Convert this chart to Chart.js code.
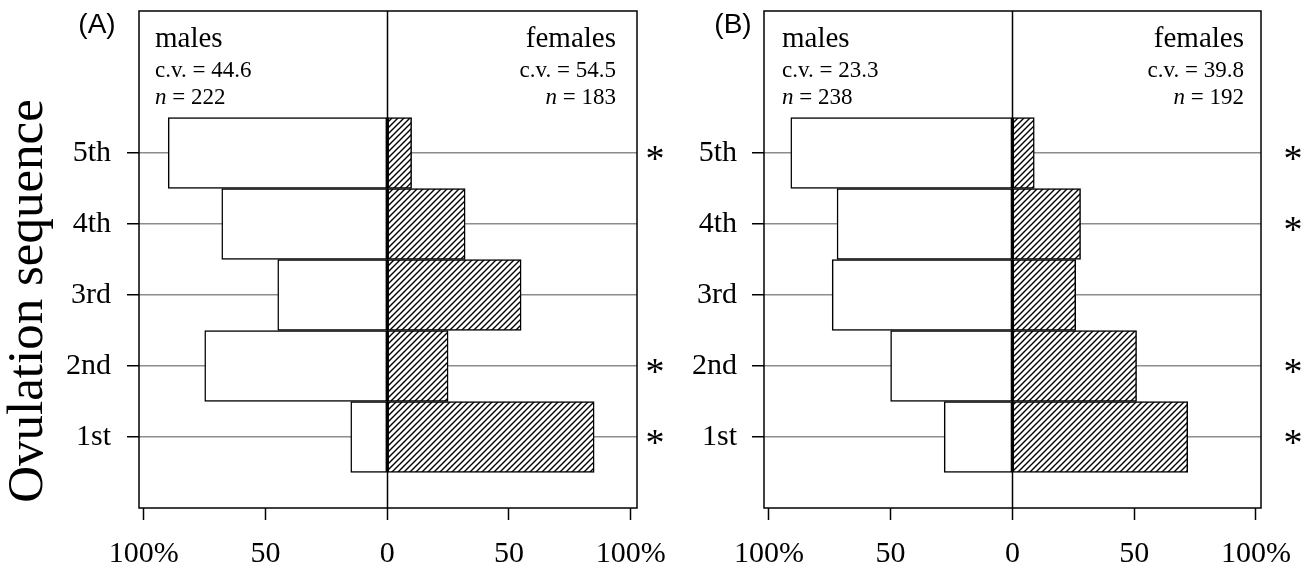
<!DOCTYPE html>
<html><head><meta charset="utf-8">
<script src="https://cdn.jsdelivr.net/npm/chart.js@4"></script>
<style>
html,body{margin:0;padding:0;background:#fff;}
#wrap{position:relative;width:1302px;height:569px;overflow:hidden;}
canvas{position:absolute;top:0;}
#cA{left:0;} #cB{left:680px;}
</style></head><body>
<div id="wrap"><canvas id="cA" width="680" height="569"></canvas><canvas id="cB" width="622" height="569"></canvas></div>
<script>
// ---- data ----
const categories = ['1st', '2nd', '3rd', '4th', '5th'];
const xTickValues = [-100, -50, 0, 50, 100];
const xTickLabels = ['100%', '50', '0', '50', '100%'];
const groupLabels = ['males', 'females'];
const yTitle = 'Ovulation sequence';
const panelLabels = ['(A)', '(B)'];
const malesA = [15, 75, 45, 68, 90];
const femalesA = [85, 25, 55, 32, 10];
const malesB = [28, 50, 74, 72, 91];
const femalesB = [72, 51, 26, 28, 9];
const sigA = [true, true, false, false, true];
const sigB = [true, true, false, true, true];
const cvA = ['44.6', '54.5'];
const nA = ['222', '183'];
const cvB = ['23.3', '39.8'];
const nB = ['238', '192'];

const SERIF = '"Liberation Serif", "Times New Roman", serif';
const SANS = '"Liberation Sans", Arial, sans-serif';

function hatchPattern() {
  const s = 6;
  const c = document.createElement('canvas');
  c.width = s; c.height = s;
  const g = c.getContext('2d');
  g.fillStyle = '#fff'; g.fillRect(0, 0, s, s);
  g.strokeStyle = '#000'; g.lineWidth = 1.4;
  g.beginPath();
  g.moveTo(-1, s + 1); g.lineTo(s + 1, -1);
  g.moveTo(-1, 1); g.lineTo(1, -1);
  g.moveTo(s - 1, s + 1); g.lineTo(s + 1, s - 1);
  g.stroke();
  return g.createPattern(c, 'repeat');
}

function drawN(ctx, x, y, n, align) {
  const f1 = 'italic 23px ' + SERIF, f2 = '23px ' + SERIF;
  const rest = ' = ' + n;
  ctx.font = f1; const w1 = ctx.measureText('n').width;
  ctx.font = f2; const w2 = ctx.measureText(rest).width;
  let x0 = align === 'right' ? x - w1 - w2 : x;
  ctx.textAlign = 'left';
  ctx.font = f1; ctx.fillText('n', x0, y);
  ctx.font = f2; ctx.fillText(rest, x0 + w1, y);
}

function zeroPad(s) { s.paddingLeft = 0; s.paddingRight = 0; s.paddingTop = 0; s.paddingBottom = 0; }

function makeChart(id, g) {
  const canvas = document.getElementById(id);
  const W = canvas.width, H = canvas.height;
  const deco = {
    id: 'deco',
    afterDatasetsDraw(chart) {
      const ctx = chart.ctx, a = chart.chartArea, xs = chart.scales.x;
      ctx.save();
      ctx.strokeStyle = '#000'; ctx.lineWidth = 1.5;
      const x0 = Math.round(xs.getPixelForValue(0)) + 0.5;
      ctx.beginPath(); ctx.moveTo(x0, a.top); ctx.lineTo(x0, a.bottom); ctx.stroke();
      ctx.strokeRect(a.left, a.top, a.right - a.left, a.bottom - a.top);
      ctx.restore();
    },
    afterDraw(chart) {
      const ctx = chart.ctx, ys = chart.scales.y;
      ctx.save();
      ctx.fillStyle = '#000';
      ctx.textBaseline = 'alphabetic';
      ctx.font = '28px ' + SANS; ctx.textAlign = 'center';
      ctx.fillText(g.panel, g.panelX, 33);
      ctx.font = '29px ' + SERIF;
      ctx.textAlign = 'left'; ctx.fillText(groupLabels[0], g.textL, 47);
      ctx.textAlign = 'right'; ctx.fillText(groupLabels[1], g.textR, 47);
      ctx.font = '23px ' + SERIF;
      ctx.textAlign = 'left'; ctx.fillText('c.v. = ' + g.cv[0], g.textL, 77);
      ctx.textAlign = 'right'; ctx.fillText('c.v. = ' + g.cv[1], g.textR, 77);
      drawN(ctx, g.textL, 104, g.n[0], 'left');
      drawN(ctx, g.textR, 104, g.n[1], 'right');
      ctx.font = '38px ' + SERIF; ctx.textAlign = 'center';
      g.sig.forEach((s, i) => {
        if (s) ctx.fillText('*', g.starX, ys.getPixelForValue(i + 1) + 17.5);
      });
      if (g.title) {
        ctx.translate(42, 301);
        ctx.rotate(-Math.PI / 2);
        ctx.font = '51px ' + SERIF; ctx.textAlign = 'center';
        ctx.fillText(yTitle, 0, 0);
      }
      ctx.restore();
    }
  };
  return new Chart(canvas, {
    type: 'bar',
    data: {
      datasets: [
        {
          label: groupLabels[0],
          data: g.males.map((v, i) => ({ x: -v, y: i + 1 })),
          backgroundColor: '#fff', borderColor: '#000', borderWidth: 1.5,
          borderSkipped: false, barPercentage: 1, categoryPercentage: 1, grouped: false
        },
        {
          label: groupLabels[1],
          data: g.females.map((v, i) => ({ x: v, y: i + 1 })),
          backgroundColor: hatchPattern(), borderColor: '#000', borderWidth: 1.5,
          borderSkipped: false, barPercentage: 1, categoryPercentage: 1, grouped: false
        }
      ]
    },
    options: {
      indexAxis: 'y',
      responsive: false,
      animation: false,
      devicePixelRatio: 1,
      layout: { padding: { left: 0, top: g.top, right: W - g.right, bottom: 0 } },
      plugins: { legend: { display: false }, tooltip: { enabled: false } },
      scales: {
        x: {
          type: 'linear', min: g.xMin, max: g.xMax,
          afterBuildTicks: s => { s.ticks = xTickValues.map(v => ({ value: v })); },
          afterFit: s => { s.height = H - g.bottom; zeroPad(s); },
          border: { display: false },
          grid: { drawOnChartArea: false, drawTicks: true, tickLength: 12, tickColor: '#000', tickWidth: 1.5 },
          ticks: {
            color: '#000', padding: 16, maxRotation: 0, autoSkip: false,
            font: { family: SERIF, size: 30 },
            callback: v => xTickLabels[xTickValues.indexOf(v)]
          }
        },
        y: {
          type: 'linear', min: 0, max: 7, offset: false,
          afterBuildTicks: s => { s.ticks = categories.map((c, i) => ({ value: i + 1 })); },
          afterFit: s => { s.width = g.left; zeroPad(s); },
          border: { display: false },
          grid: { offset: false, color: '#8c8c8c', lineWidth: 1.5, drawTicks: true, tickLength: 12, tickColor: '#000', tickWidth: 1.5 },
          ticks: {
            color: '#000', padding: g.tickPad, autoSkip: false,
            font: { family: SERIF, size: 30 },
            callback: v => categories[v - 1]
          }
        }
      }
    },
    plugins: [deco]
  });
}

makeChart('cA', {
  left: 139, right: 637, top: 11, bottom: 508, tickPad: 16, xMin: -102, xMax: 102.6,
  males: malesA, females: femalesA, sig: sigA, cv: cvA, n: nA,
  panel: panelLabels[0], panelX: 97, textL: 155, textR: 616, starX: 655, title: true
});
makeChart('cB', {
  left: 84, right: 581, top: 11, bottom: 508, tickPad: 15, xMin: -102, xMax: 102.1,
  males: malesB, females: femalesB, sig: sigB, cv: cvB, n: nB,
  panel: panelLabels[1], panelX: 53, textL: 102, textR: 564, starX: 613, title: false
});
</script>
</body></html>
